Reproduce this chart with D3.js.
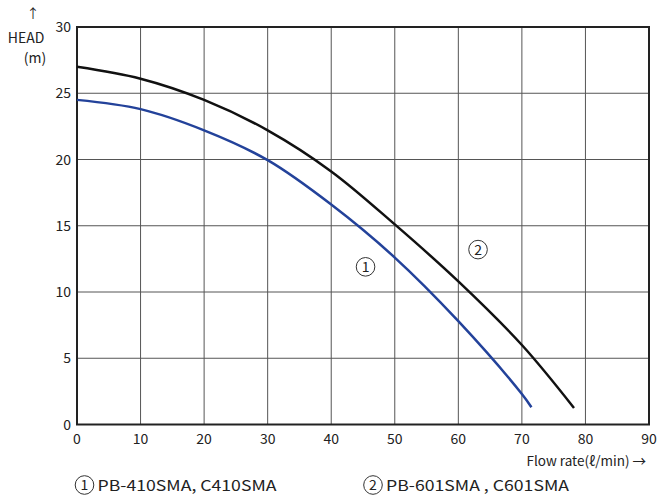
<!DOCTYPE html>
<html>
<head>
<meta charset="utf-8">
<script src="https://cdn.jsdelivr.net/npm/d3@7"></script>
<style>
  body { margin: 0; background: #fff; }
  svg { font-family: "Noto Sans CJK KR", "Noto Sans", sans-serif; }
</style>
</head>
<body>
<div id="chart"></div>
<script>
// flow rate (l/min) vs head (m)
const flow1 = [0, 10, 20, 30, 40, 50, 60, 70, 71.5];
const head1 = [24.5, 23.8, 22.2, 19.95, 16.6, 12.6, 7.8, 2.3, 1.3];
const flow2 = [0, 10, 20, 30, 40, 50, 60, 70, 78.2];
const head2 = [27.0, 26.1, 24.5, 22.2, 19.1, 15.1, 10.8, 6.0, 1.25];
const xTicks = [0, 10, 20, 30, 40, 50, 60, 70, 80, 90];
const yTicks = [0, 5, 10, 15, 20, 25, 30];
const curveLabels = [{ n: "1", x: 45.4, y: 11.9 }, { n: "2", x: 63.1, y: 13.2 }];
const legendNums = ["1", "2"];
const legendText = ["PB-410SMA, C410SMA", "PB-601SMA , C601SMA"];

const width = 658, height = 497;
const svg = d3.select("#chart").append("svg")
    .attr("width", width)
    .attr("height", height);

const x = d3.scaleLinear().domain([0, 90]).range([77, 649]);
const y = d3.scaleLinear().domain([0, 30]).range([424.5, 27]);

// grid
svg.append("g").selectAll("line").data(xTicks.slice(1, -1)).join("line")
    .attr("x1", d => x(d)).attr("x2", d => x(d))
    .attr("y1", y(0)).attr("y2", y(30))
    .attr("stroke", "#555").attr("stroke-width", 1);
svg.append("g").selectAll("line").data(yTicks.slice(1, -1)).join("line")
    .attr("x1", x(0)).attr("x2", x(90))
    .attr("y1", d => y(d)).attr("y2", d => y(d))
    .attr("stroke", "#555").attr("stroke-width", 1);

// frame
svg.append("rect")
    .attr("x", x(0)).attr("y", y(30))
    .attr("width", x(90) - x(0)).attr("height", y(0) - y(30))
    .attr("fill", "none").attr("stroke", "#222").attr("stroke-width", 2);

// tick labels
svg.append("g").selectAll("text").data(xTicks).join("text")
    .attr("x", d => x(d)).attr("y", y(0) + 19)
    .attr("text-anchor", "middle")
    .attr("font-size", 14).attr("fill", "#222")
    .text(d => d);
svg.append("g").selectAll("text").data(yTicks).join("text")
    .attr("x", x(0) - 6).attr("y", d => y(d) + 5)
    .attr("text-anchor", "end")
    .attr("font-size", 14).attr("fill", "#222")
    .text(d => d);

// axis titles
svg.append("text").attr("x", 33).attr("y", 18).attr("text-anchor", "middle")
    .attr("font-size", 13).attr("fill", "#222").text("↑");
svg.append("text").attr("x", 26).attr("y", 43).attr("text-anchor", "middle")
    .attr("font-size", 14).attr("fill", "#222").text("HEAD");
svg.append("text").attr("x", 35).attr("y", 63).attr("text-anchor", "middle")
    .attr("font-size", 14).attr("fill", "#222").text("(m)");
svg.append("text").attr("x", 646).attr("y", 466).attr("text-anchor", "end")
    .attr("font-size", 13.5).attr("fill", "#222").text("Flow rate(ℓ/min) →");

// curves
const line = d3.line()
    .x(d => x(d[0])).y(d => y(d[1]))
    .curve(d3.curveCatmullRom.alpha(0.5));
svg.append("path").datum(d3.zip(flow2, head2))
    .attr("d", line).attr("fill", "none")
    .attr("stroke", "#111").attr("stroke-width", 2.5);
svg.append("path").datum(d3.zip(flow1, head1))
    .attr("d", line).attr("fill", "none")
    .attr("stroke", "#23429a").attr("stroke-width", 2.5);

// circled numbers
function circled(g, cx, cy, n) {
    g.append("circle").attr("cx", cx).attr("cy", cy).attr("r", 9.3)
        .attr("fill", "none").attr("stroke", "#333").attr("stroke-width", 1);
    g.append("text").attr("x", cx).attr("y", cy + 5)
        .attr("text-anchor", "middle")
        .attr("font-size", 14).attr("fill", "#222").text(n);
}
const labels = svg.append("g");
curveLabels.forEach(d => circled(labels, x(d.x), y(d.y), d.n));

// legend
const legendX = [84.5, 373];
const legendW = [179, 183];
const legend = svg.append("g");
legendNums.forEach((n, i) => {
    circled(legend, legendX[i], 485, n);
    legend.append("text")
        .attr("x", legendX[i] + 13).attr("y", 491)
        .attr("font-size", 15).attr("fill", "#222")
        .attr("textLength", legendW[i]).attr("lengthAdjust", "spacingAndGlyphs")
        .text(legendText[i]);
});
</script>
</body>
</html>
